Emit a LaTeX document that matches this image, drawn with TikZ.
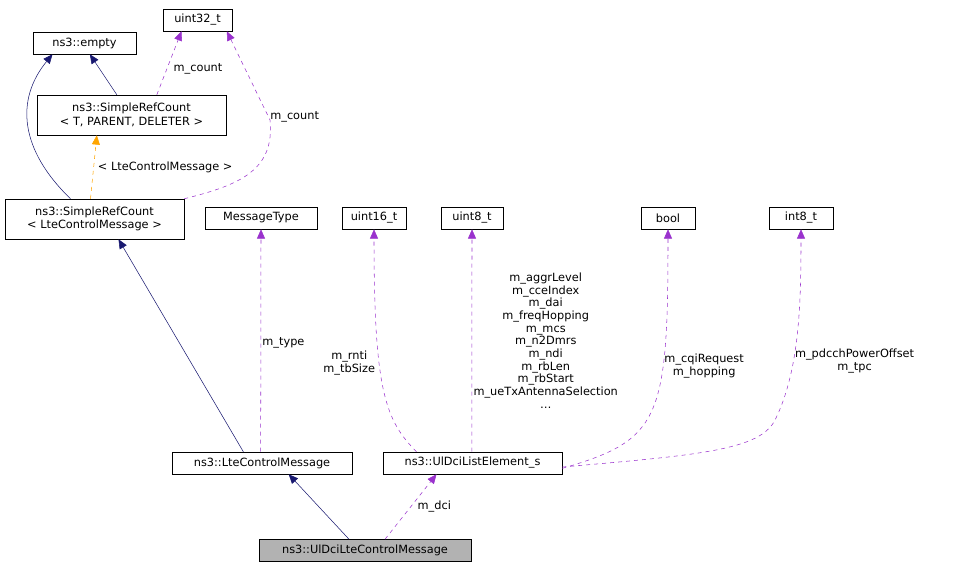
\documentclass[tikz,border=0pt]{standalone}
\usepackage{fontspec}
\setmainfont{DejaVu Sans}
\usetikzlibrary{arrows.meta}
\definecolor{edgeNavy}{HTML}{191970}
\definecolor{edgePurple}{HTML}{9A32CD}
\definecolor{edgeOrange}{HTML}{FFA500}
\tikzset{
  cls/.style={draw,fill=white,inner sep=0pt,minimum height=16.5pt,align=center,font=\fontsize{8.5}{10}\selectfont},
  inh/.style={edgeNavy,-{Triangle[length=7pt,width=6pt,fill=edgeNavy]}},
  use/.style={edgePurple,dashed,-{Triangle[length=7pt,width=6pt,fill=edgePurple]}},
  tpl/.style={edgeOrange,dashed,-{Triangle[length=7pt,width=6pt,fill=edgeOrange]}},
  lbl/.style={text=black,font=\fontsize{8.5}{9.5}\selectfont,align=center,inner sep=1pt}
}
\begin{document}
\begin{tikzpicture}[x=0.75pt,y=-0.75pt]
\useasboundingbox (0,0) rectangle (955,571);
%
\node[cls,minimum width=77.25pt] (empty) at (84.5,43) {ns3::empty};
\node[cls,minimum width=51.75pt] (u32) at (197.5,20) {uint32\_t};
\node[cls,minimum width=141.75pt,minimum height=30pt] (srcT) at (131.5,115) {ns3::SimpleRefCount\\\textless{} T, PARENT, DELETER \textgreater};
\node[cls,minimum width=134.25pt,minimum height=30pt] (srcL) at (94.5,219) {ns3::SimpleRefCount\\\textless{} LteControlMessage \textgreater};
\node[cls,minimum width=84pt] (msgType) at (261,218) {MessageType};
\node[cls,minimum width=48pt] (u16) at (374,218) {uint16\_t};
\node[cls,minimum width=46.5pt] (u8) at (472,218) {uint8\_t};
\node[cls,minimum width=40.5pt] (bool) at (668,218) {bool};
\node[cls,minimum width=48pt] (i8) at (801,218) {int8\_t};
\node[cls,minimum width=135pt] (lteCM) at (262,463) {ns3::LteControlMessage};
\node[cls,minimum width=134.25pt] (ulDci) at (472.5,463) {ns3::UlDciListElement\_s};
\node[cls,minimum width=159pt,fill=gray!60] (ulDciCM) at (365,550.5) {ns3::UlDciLteControlMessage};
%
\draw[inh] (srcL.north) ++(-24,0) .. controls (20,150) and (15,100) .. ([xshift=-24]empty.south);
\draw[inh] ([xshift=-11]srcT.north) -- ([xshift=4]empty.south);
\draw[use] ([xshift=19]srcT.north) -- node[lbl,right,pos=0.4,xshift=4]{m\_count} ([xshift=-12]u32.south);
\draw[use] (srcL.north east) .. controls (240,185) and (275,170) .. (270,120) -- node[lbl,right,pos=0.03]{m\_count} ([xshift=22]u32.south);
\draw[tpl] ([xshift=-3]srcL.north) -- node[lbl,right,pos=0.5,xshift=2]{\textless{} LteControlMessage \textgreater} ([xshift=-26]srcT.south);
\draw[inh] ([xshift=-14]lteCM.north) -- ([xshift=18]srcL.south);
\draw[use] ([xshift=-1]lteCM.north) -- node[lbl,right,pos=0.49]{m\_type} (msgType.south);
\draw[use] ([xshift=-42]ulDci.north) .. controls (385,420) and (374,390) .. node[lbl,left,pos=0.62,xshift=-2]{m\_rnti\\m\_tbSize} (u16.south);
\draw[use] ([xshift=-0.5]ulDci.north) -- node[lbl,right,pos=0.5]{m\_aggrLevel\\m\_cceIndex\\m\_dai\\m\_freqHopping\\m\_mcs\\m\_n2Dmrs\\m\_ndi\\m\_rbLen\\m\_rbStart\\m\_ueTxAntennaSelection\\\dots} (u8.south);
\draw[use] ([yshift=-4]ulDci.east) .. controls (660,440) and (668,420) .. node[lbl,right,pos=0.68]{m\_cqiRequest\\m\_hopping} (bool.south);
\draw[use] ([yshift=-3]ulDci.east) .. controls (700,455) and (760,450) .. (775,420) .. controls (800,370) and (801,300) .. node[lbl,right,pos=0.35]{m\_pdcchPowerOffset\\m\_tpc} (i8.south);
\draw[inh] ([xshift=-12]ulDciCM.north) -- ([xshift=20]lteCM.south);
\draw[use] ([xshift=15]ulDciCM.north) -- node[lbl,right,pos=0.5,xshift=4]{m\_dci} ([xshift=-27]ulDci.south);
\end{tikzpicture}
\end{document}
